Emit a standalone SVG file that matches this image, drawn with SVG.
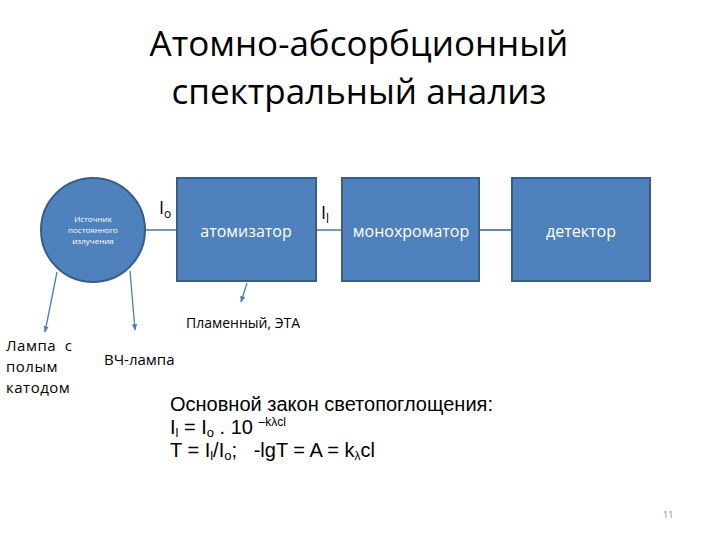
<svg xmlns="http://www.w3.org/2000/svg" width="720" height="540" viewBox="0 0 720 540">
<defs>
<style>
.box{fill:#4f81bd;stroke:#385d8a;stroke-width:2}
.bt{font-family:"Open Sans","DejaVu Sans",sans-serif;fill:#fff;text-anchor:middle}
.lbl{font-family:"Open Sans","DejaVu Sans",sans-serif;fill:#000}
.f{font-family:"Liberation Sans",Arial,sans-serif;fill:#000;font-size:20px}
.ln{stroke:#4a7ebb;stroke-width:1.3;fill:none}
.cl{stroke:#385d8a;stroke-width:1.3;fill:none}
</style>
<marker id="ah" viewBox="0 0 10 10" refX="9" refY="5" markerWidth="5" markerHeight="5" orient="auto">
<path d="M0,1 L10,5 L0,9 z" fill="#4a7ebb"/>
</marker>
</defs>
<rect width="720" height="540" fill="#fff"/>
<g id="title" font-family="Open Sans, DejaVu Sans, sans-serif" font-size="35" text-anchor="middle" fill="#000">
<text x="359" y="56">Атомно-абсорбционный</text>
<text x="359" y="104">спектральный анализ</text>
</g>
<g id="connectors">
<line class="cl" x1="145" y1="230" x2="177" y2="230"/>
<line class="cl" x1="316" y1="230" x2="342" y2="230"/>
<line class="cl" x1="479" y1="230" x2="512" y2="230"/>
<line class="ln" x1="247" y1="283" x2="241" y2="302" marker-end="url(#ah)"/>
<line class="ln" x1="57" y1="272" x2="45" y2="332" marker-end="url(#ah)"/>
<line class="ln" x1="130" y1="271" x2="135" y2="330" marker-end="url(#ah)"/>
</g>
<g id="source">
<circle cx="93" cy="230" r="52" class="box"/>
<text class="bt" font-size="8"><tspan x="93" y="222">Источник</tspan><tspan x="93" y="233">постоянного</tspan><tspan x="93" y="244">излучения</tspan></text>
</g>
<g id="atomizer">
<rect x="177" y="178" width="139" height="103" class="box"/>
<text class="bt" x="246" y="237" font-size="16">атомизатор</text>
</g>
<g id="monochromator">
<rect x="342" y="178" width="137" height="103" class="box"/>
<text class="bt" x="411" y="237" font-size="16">монохроматор</text>
</g>
<g id="detector">
<rect x="512" y="178" width="138" height="103" class="box"/>
<text class="bt" x="581" y="237" font-size="16">детектор</text>
</g>
<g id="labels" class="lbl">
<text x="159" y="214" font-size="18">I<tspan font-size="12" dy="4">o</tspan></text>
<text x="321" y="219" font-size="18">I<tspan font-size="12" dy="4">l</tspan></text>
<text x="186" y="328" font-size="14">Пламенный, ЭТА</text>
<text font-size="15" letter-spacing="0.5"><tspan x="6" y="351">Лампа&#160; с</tspan><tspan x="6" y="372">полым</tspan><tspan x="6" y="393">катодом</tspan></text>
<text x="104" y="365" font-size="15">ВЧ-лампа</text>
</g>
<g id="formula" class="f">
<text x="170" y="411">Основной закон светопоглощения:</text>
<text x="170" y="434">I<tspan font-size="13" dy="3">l</tspan><tspan dy="-3"> = I</tspan><tspan font-size="13" dy="3">o</tspan><tspan dy="-3"> . 10 </tspan><tspan font-size="12" dy="-8">–kλcl</tspan></text>
<text x="170" y="457">T = I<tspan font-size="13" dy="3">l</tspan><tspan dy="-3">/I</tspan><tspan font-size="13" dy="3">o</tspan><tspan dy="-3">;&#160;&#160; -lgT = A = k</tspan><tspan font-size="12" dy="3">λ</tspan><tspan dy="-3">cl</tspan></text>
</g>
<text x="663" y="518" font-family="Open Sans, DejaVu Sans, sans-serif" font-size="9" fill="#888">11</text>
</svg>
